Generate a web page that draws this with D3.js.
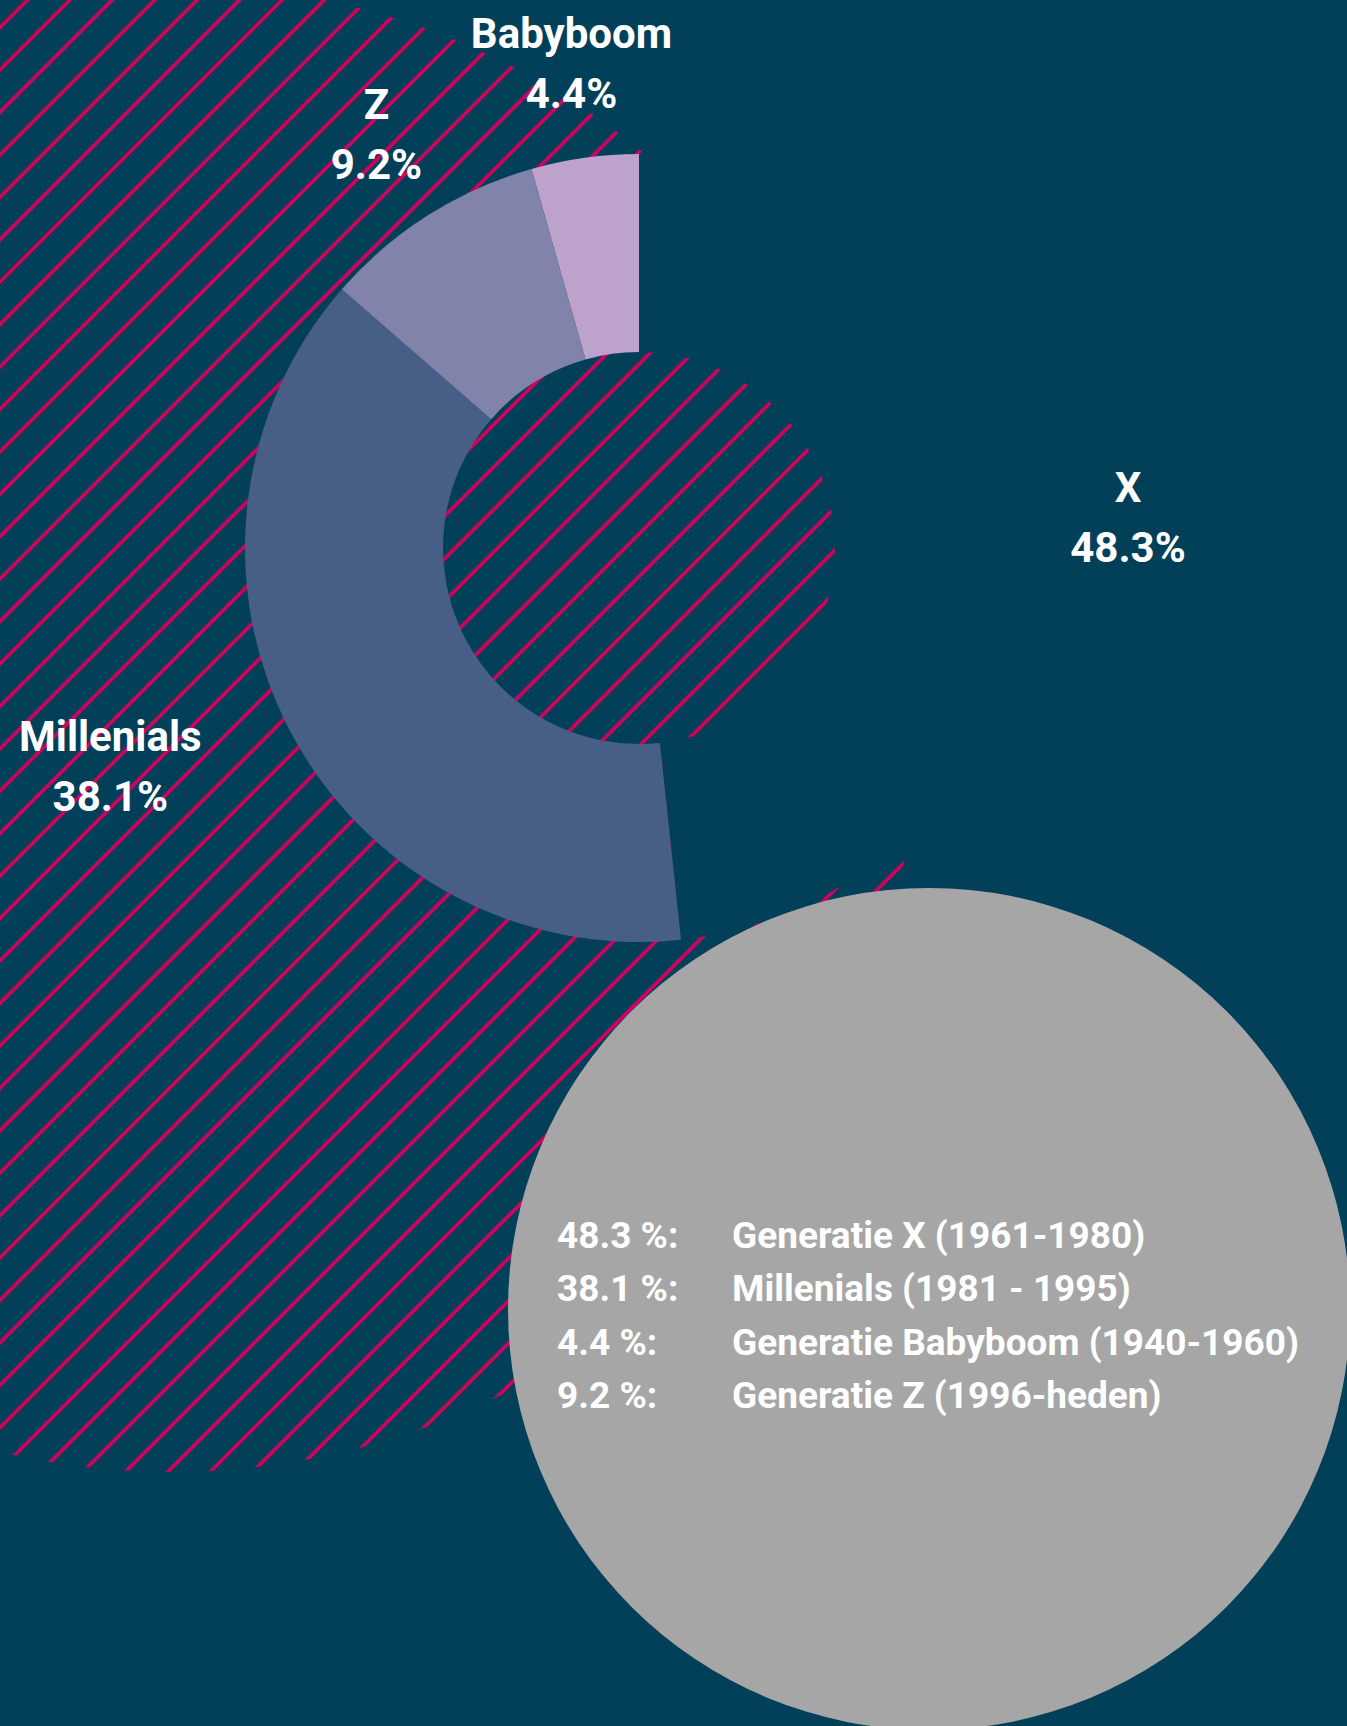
<!DOCTYPE html>
<html>
<head>
<meta charset="utf-8">
<script src="https://cdn.jsdelivr.net/npm/d3@7"></script>
<style>
  body { margin: 0; background: #02405a; }
  svg { display: block; }
  text { font-family: Roboto, "Open Sans", sans-serif; font-weight: 700; fill: #fff; }
</style>
</head>
<body>
<div id="chart"></div>
<script>
// data
var generations = ["X", "Millenials", "Babyboom", "Z"];
var shares = [48.3, 38.1, 4.4, 9.2];
var periods = ["Generatie X (1961-1980)", "Millenials (1981 - 1995)", "Generatie Babyboom (1940-1960)", "Generatie Z (1996-heden)"];
var sliceOrder = ["X", "Millenials", "Z", "Babyboom"];
var sliceColors = ["#02405a", "#475f86", "#bda2cb", "#8283ab"];

(function () {
    var width = 1347, height = 1726;
    var cx = 639, cy = 548, outerR = 394, innerR = 196;

    var svg = d3.select("#chart")
        .append("svg")
        .attr("width", width)
        .attr("height", height);

    svg.append("rect")
        .attr("width", width)
        .attr("height", height)
        .attr("fill", "#02405a");

    // hatch pattern
    var defs = svg.append("defs");
    var pat = defs.append("pattern")
        .attr("id", "hatch")
        .attr("patternUnits", "userSpaceOnUse")
        .attr("width", 30)
        .attr("height", 30)
        .attr("patternTransform", "rotate(45)");
    pat.append("rect")
        .attr("x", 17.6)
        .attr("y", 0)
        .attr("width", 3.6)
        .attr("height", 30)
        .attr("fill", "#d8005c");

    // big hatched circle behind the donut
    svg.append("circle")
        .attr("cx", 172)
        .attr("cy", 728)
        .attr("r", 744)
        .attr("fill", "url(#hatch)");

    var data = generations.map(function (g, i) {
        return { gen: g, share: shares[i], color: sliceColors[i] };
    });

    var pie = d3.pie()
        .value(function (d) { return d.share; })
        .sort(function (a, b) { return sliceOrder.indexOf(a.gen) - sliceOrder.indexOf(b.gen); });

    var arc = d3.arc().innerRadius(innerR).outerRadius(outerR);

    var donut = svg.append("g")
        .attr("transform", "translate(" + cx + "," + cy + ")");

    var arcs = pie(data);

    donut.selectAll(".slice")
        .data(arcs)
        .enter().append("path")
        .attr("class", "slice")
        .attr("d", arc)
        .attr("fill", function (d) { return d.data.color; });

    // labels
    var labelR = 490;
    var nudge = {
        Millenials: { r: 572, a: 5.1 * Math.PI / 180 },
        X: { r: 490, a: -0.6 * Math.PI / 180 }
    };
    var labels = donut.selectAll(".label")
        .data(arcs)
        .enter().append("g")
        .attr("class", "label")
        .attr("transform", function (d) {
            var n = nudge[d.data.gen] || { r: labelR, a: 0 };
            var a = (d.startAngle + d.endAngle) / 2 + n.a;
            return "translate(" + (n.r * Math.sin(a)) + "," + (-n.r * Math.cos(a)) + ")";
        });
    labels.append("text")
        .attr("text-anchor", "middle")
        .attr("y", -15)
        .attr("font-size", 42)
        .text(function (d) { return d.data.gen; });
    labels.append("text")
        .attr("text-anchor", "middle")
        .attr("y", 45)
        .attr("font-size", 42)
        .text(function (d) { return d3.format(".1f")(d.data.share) + "%"; });

    // grey legend circle
    var gx = 929, gy = 1309, gr = 421;
    svg.append("circle")
        .attr("cx", gx)
        .attr("cy", gy)
        .attr("r", gr)
        .attr("fill", "#a6a6a6");

    var rowY = d3.scalePoint().domain(generations).range([gy - 61, gy + 99]);

    var legend = svg.selectAll(".legend")
        .data(data)
        .enter().append("g")
        .attr("class", "legend")
        .attr("transform", function (d) { return "translate(0," + rowY(d.gen) + ")"; });
    legend.append("text")
        .attr("x", gx - 372)
        .attr("font-size", 37)
        .text(function (d) { return d3.format(".1f")(d.share) + " %:"; });
    legend.append("text")
        .attr("x", gx - 197)
        .attr("font-size", 37)
        .text(function (d, i) { return periods[i]; });
})();
</script>
</body>
</html>
